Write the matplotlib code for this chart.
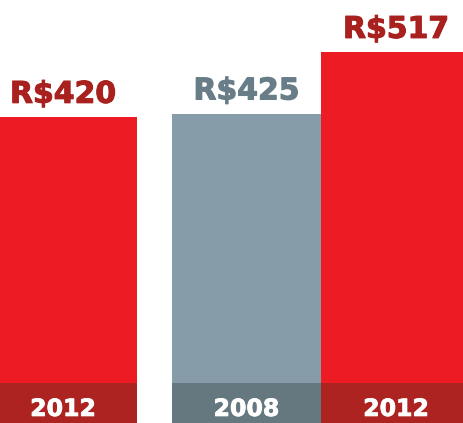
import matplotlib.pyplot as plt
import matplotlib.patheffects as pe

years = ['2012', '2008', '2012']
values = [420, 425, 517]
labels = ['R$420', 'R$425', 'R$517']

# layout (pixel-like x units)
lefts = [-11, 172, 321]
widths = [148, 149, 150]
bar_colors = ['#ED1C24', '#869CA8', '#ED1C24']
band_colors = ['#AD2322', '#65787F', '#AD2322']
text_colors = ['#A8211F', '#687D87', '#A8211F']

ymin, ymax = -37, 595
band_h = 60

fig = plt.figure(figsize=(4.63, 4.23), dpi=100)
ax = fig.add_axes([0, 0, 1, 1])
ax.set_xlim(0, 463)
ax.set_ylim(ymin, ymax)
ax.axis('off')

for l, w, v, lab, yr, bc, dc, tc in zip(lefts, widths, values, labels, years, bar_colors, band_colors, text_colors):
	ax.bar(l, v - ymin, width=w, bottom=ymin, align='edge', color=bc, linewidth=0)
	ax.bar(l, band_h, width=w, bottom=ymin, align='edge', color=dc, linewidth=0)
	c = l + w / 2
	t = ax.annotate(lab, (c, v), xytext=(0, 6), textcoords='offset points',
		ha='center', va='bottom', fontsize=21.5, fontweight='bold', color=tc)
	t.set_path_effects([pe.withStroke(linewidth=0.8, foreground=tc)])
	t = ax.annotate(yr, (c, ymin), xytext=(0, 1.5), textcoords='offset points',
		ha='center', va='bottom', fontsize=17, fontweight='bold', color='white')
	t.set_path_effects([pe.withStroke(linewidth=0.6, foreground='white')])

fig.savefig('out.png', dpi=100)
